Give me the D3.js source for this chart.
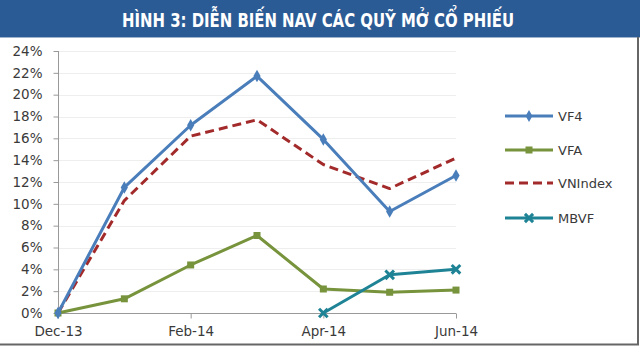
<!DOCTYPE html>
<html>
<head>
    <style>
        body {
            margin: 0;
            padding: 0;
            background: #fff;
        }
        svg text { font-family: "DejaVu Sans", Verdana, sans-serif; }
        .title { font-family: "DejaVu Sans Condensed", "Liberation Sans Narrow", sans-serif; font-weight: bold; }
    </style>
    <script src="https://d3js.org/d3.v7.min.js"></script>
</head>
<body>
<div id="chart"></div>
<script>
    // data
    var months = ["Dec-13", "Jan-14", "Feb-14", "Mar-14", "Apr-14", "May-14", "Jun-14"];
    var tickMonths = ["Dec-13", "Feb-14", "Apr-14", "Jun-14"];
    var yTicks = [0, 2, 4, 6, 8, 10, 12, 14, 16, 18, 20, 22, 24];

    var vf4 = [0, 11.5, 17.2, 21.7, 15.9, 9.3, 12.6];
    var vfa = [0, 1.3, 4.4, 7.1, 2.2, 1.9, 2.1];
    var vnindex = [0, 10.3, 16.2, 17.7, 13.6, 11.4, 14.2];
    var mbvf = [null, null, null, null, 0, 3.5, 4.0];

    var seriesNames = ["VF4", "VFA", "VNIndex", "MBVF"];
    var seriesValues = [vf4, vfa, vnindex, mbvf];
    var seriesColors = ["#4a7ebb", "#77933c", "#a32a2a", "#1f8396"];

    var W = 640, H = 352;
    var svg = d3.select("#chart").append("svg")
        .attr("width", W)
        .attr("height", H);

    // title bar
    svg.append("rect").attr("x", 0).attr("y", 0).attr("width", W).attr("height", 37)
        .attr("fill", "#2b5b95");
    svg.append("line").attr("x1", 0).attr("x2", W).attr("y1", 37.5).attr("y2", 37.5)
        .attr("stroke", "#9fb4cc").attr("stroke-width", 1);
    svg.append("text").attr("class", "title")
        .attr("x", 318).attr("y", 27)
        .attr("text-anchor", "middle")
        .attr("fill", "#fff")
        .attr("font-size", 20)
        .attr("textLength", 392)
        .attr("lengthAdjust", "spacingAndGlyphs")
        .text("HÌNH 3: DIỄN BIẾN NAV CÁC QUỸ MỞ CỔ PHIẾU");

    // frame right / bottom
    svg.append("line").attr("x1", 638).attr("x2", 638).attr("y1", 37).attr("y2", 345)
        .attr("stroke", "#666").attr("stroke-width", 2);
    svg.append("line").attr("x1", 0).attr("x2", 639).attr("y1", 344.5).attr("y2", 344.5)
        .attr("stroke", "#666").attr("stroke-width", 2);

    var x = d3.scalePoint().domain(months).range([58, 456]);
    var y = d3.scaleLinear().domain([0, 24]).range([313, 51]);

    // gridlines
    svg.append("g").selectAll("line").data(yTicks.slice(1)).enter().append("line")
        .attr("x1", 58).attr("x2", 456)
        .attr("y1", function(d) { return Math.round(y(d)) + 0.5; })
        .attr("y2", function(d) { return Math.round(y(d)) + 0.5; })
        .attr("stroke", "#eeeeee");

    var yAxis = svg.append("g")
        .attr("transform", "translate(58.5,0)")
        .call(d3.axisLeft(y).tickValues(yTicks).tickSize(5).tickPadding(11)
            .tickFormat(function(d) { return d + "%"; }));
    yAxis.select(".domain").attr("stroke", "#999").attr("d", "M0," + y(24) + "V" + y(0));
    yAxis.selectAll(".tick line").attr("stroke", "#999");
    yAxis.selectAll(".tick text").attr("font-size", 13.5).attr("fill", "#3a3a3a");

    var xAxis = svg.append("g")
        .attr("transform", "translate(0,313.5)")
        .call(d3.axisBottom(x).tickValues(tickMonths).tickSize(5).tickPadding(8));
    xAxis.select(".domain").attr("stroke", "#999").attr("d", "M58,0H456");
    xAxis.selectAll(".tick line").attr("stroke", "#999");
    xAxis.selectAll(".tick text").attr("font-size", 13.5).attr("fill", "#3a3a3a");

    var line = d3.line()
        .defined(function(d) { return d != null; })
        .x(function(d, i) { return x(months[i]); })
        .y(function(d) { return y(d); });

    // drawing order: VFA, VNIndex, VF4, MBVF
    var order = [1, 2, 0, 3];
    order.forEach(function(k) {
        var vals = seriesValues[k];
        var g = svg.append("g");
        g.append("path")
            .attr("d", line(vals))
            .attr("fill", "none")
            .attr("stroke", seriesColors[k])
            .attr("stroke-width", 3)
            .attr("stroke-linejoin", "round")
            .attr("stroke-dasharray", k === 2 ? "9,5" : null);
        var pts = vals.map(function(v, i) { return {v: v, i: i}; }).filter(function(p) { return p.v != null; });
        if (k === 0) {
            g.selectAll("path.m").data(pts).enter().append("path").attr("class", "m")
                .attr("d", d3.symbol().type(d3.symbolDiamond).size(45))
                .attr("transform", function(p) { return "translate(" + x(months[p.i]) + "," + y(p.v) + ")"; })
                .attr("fill", seriesColors[k]);
        } else if (k === 1) {
            g.selectAll("rect").data(pts).enter().append("rect")
                .attr("x", function(p) { return x(months[p.i]) - 3.5; })
                .attr("y", function(p) { return y(p.v) - 3.5; })
                .attr("width", 7).attr("height", 7)
                .attr("fill", seriesColors[k]);
        } else if (k === 3) {
            g.selectAll("path.m").data(pts).enter().append("path").attr("class", "m")
                .attr("d", d3.symbol().type(d3.symbolX).size(50))
                .attr("transform", function(p) { return "translate(" + x(months[p.i]) + "," + y(p.v) + ")"; })
                .attr("fill", "none")
                .attr("stroke", seriesColors[k])
                .attr("stroke-width", 3);
        }
    });

    // legend
    var legY = [116, 150, 183, 218];
    var leg = svg.append("g");
    seriesNames.forEach(function(name, k) {
        var yy = legY[k];
        leg.append("line").attr("x1", 505).attr("x2", 553).attr("y1", yy).attr("y2", yy)
            .attr("stroke", seriesColors[k]).attr("stroke-width", 2.8)
            .attr("stroke-dasharray", k === 2 ? "9,5" : null);
        if (k === 0) {
            leg.append("path").attr("d", d3.symbol().type(d3.symbolDiamond).size(40))
                .attr("transform", "translate(529," + yy + ")").attr("fill", seriesColors[k]);
        } else if (k === 1) {
            leg.append("rect").attr("x", 525.5).attr("y", yy - 3.5).attr("width", 7).attr("height", 7)
                .attr("fill", seriesColors[k]);
        } else if (k === 3) {
            leg.append("path").attr("d", d3.symbol().type(d3.symbolX).size(45))
                .attr("transform", "translate(529," + yy + ")").attr("fill", "none")
                .attr("stroke", seriesColors[k]).attr("stroke-width", 3);
        }
        leg.append("text").attr("x", 558).attr("y", yy + 4.5)
            .attr("font-size", 13).attr("fill", "#3a3a3a").text(name);
    });
</script>
</body>
</html>
